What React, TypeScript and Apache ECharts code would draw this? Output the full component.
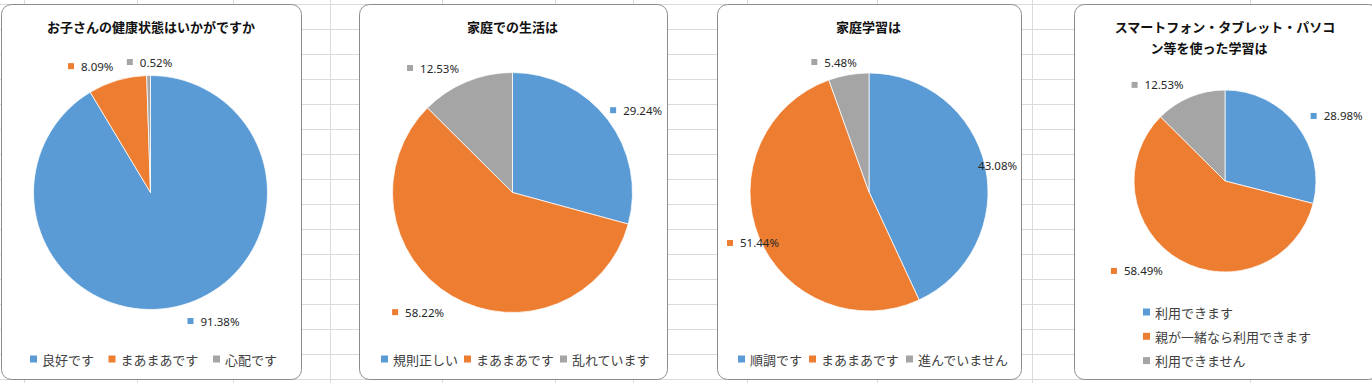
import React, { useEffect, useRef } from "react";
import * as echarts from "echarts";

// ---------- data ----------
const healthTitle = ["お子さんの健康状態はいかがですか"];
const healthCategories = ["良好です", "まあまあです", "心配です"];
const healthValues = [91.38, 8.09, 0.52];

const lifeTitle = ["家庭での生活は"];
const lifeCategories = ["規則正しい", "まあまあです", "乱れています"];
const lifeValues = [29.24, 58.22, 12.53];

const studyTitle = ["家庭学習は"];
const studyCategories = ["順調です", "まあまあです", "進んでいません"];
const studyValues = [43.08, 51.44, 5.48];

const deviceTitle = ["スマートフォン・タブレット・パソコ", "ン等を使った学習は"];
const deviceCategories = ["利用できます", "親が一緒なら利用できます", "利用できません"];
const deviceValues = [28.98, 58.49, 12.53];

// ---------- styles / layout ----------
const COLORS = ["#5B9BD5", "#ED7D31", "#A5A5A5"];
const JP = '"Noto Sans CJK JP", "Noto Sans", sans-serif';
const NUM = '"Noto Sans", "Liberation Sans", sans-serif';

const PANELS = [
  {
    title: healthTitle, cats: healthCategories, vals: healthValues,
    box: [1.5, 4.5, 300, 375], titleX: [151], titleY: [26],
    center: [150.5, 192.5], r: 117,
    legend: { orient: "horizontal", left: 30, top: 351, itemGap: 14.5 },
    nudges: [[-10.6, 26.1], [-8.9, 22.8], [0.5, 13.5]],
  },
  {
    title: lifeTitle, cats: lifeCategories, vals: lifeValues,
    box: [359.5, 4.5, 308, 375], titleX: [512.5], titleY: [26],
    center: [512.5, 192.5], r: 120,
    legend: { orient: "horizontal", left: 381, top: 351, itemGap: 6 },
    nudges: [[3.7, 28.5], [8.2, 32.4], [-10, 27.7]],
  },
  {
    title: studyTitle, cats: studyCategories, vals: studyValues,
    box: [717.5, 4.5, 304, 375], titleX: [868.5], titleY: [26],
    center: [869, 192], r: 119,
    legend: { orient: "horizontal", left: 738, top: 351, itemGap: 7 },
    nudges: [[0, 6], [-1.4, 7.7], [-5.2, 15.6]],
  },
  {
    title: deviceTitle, cats: deviceCategories, vals: deviceValues,
    box: [1074.5, 4.5, 304, 375], titleX: [1225, 1209], titleY: [26, 47],
    center: [1225, 181], r: 91,
    legend: { orient: "vertical", left: 1143, top: 304, itemGap: 8.3 },
    nudges: [[7.6, 38.2], [14.8, 34.9], [-12.5, 26.4]],
  },
];

const GRID_Y_START = 4.5;
const GRID_Y_STEP = 25;
const GRID_X = [24.5, 137.5, 233.5, 330.5, 442.5, 555.5, 633.5, 747.5, 877.5, 1032.5, 1250.5];

export default function App() {
  const ref = useRef<HTMLDivElement>(null);

  useEffect(() => {
    document.body.style.margin = "0";
    if (!ref.current) return;
    const chart = echarts.init(ref.current, undefined, { renderer: "svg" });

    const graphics: any[] = [];
    // spreadsheet grid
    for (let y = GRID_Y_START; y < 383; y += GRID_Y_STEP) {
      graphics.push({
        type: "line", z: 0, silent: true,
        shape: { x1: 0, y1: y, x2: 1372, y2: y },
        style: { stroke: "#DADADA", lineWidth: 1 },
      });
    }
    GRID_X.forEach((x) =>
      graphics.push({
        type: "line", z: 0, silent: true,
        shape: { x1: x, y1: 0, x2: x, y2: 383 },
        style: { stroke: "#DADADA", lineWidth: 1 },
      })
    );
    // chart boxes and titles
    PANELS.forEach((p) => {
      graphics.push({
        type: "rect", z: 1, silent: true,
        shape: { x: p.box[0], y: p.box[1], width: p.box[2], height: p.box[3], r: 10 },
        style: { fill: "#fff", stroke: "#8C8C8C", lineWidth: 1 },
      });
      p.title.forEach((t, i) =>
        graphics.push({
          type: "text", z: 5, silent: true,
          x: p.titleX[i], y: p.titleY[i],
          style: {
            text: t, align: "center", verticalAlign: "middle",
            font: `bold 13px ${JP}`, fill: "#111",
          },
        })
      );
    });

    const rich: any = {
      v: { fontSize: 11.5, fontFamily: NUM, color: "#262626", padding: [0, 0, 0, 7] },
    };
    COLORS.forEach((c, i) => {
      rich["s" + i] = { width: 6, height: 6, backgroundColor: c };
    });

    const series = PANELS.map((p) => {
      const total = p.vals.reduce((a, b) => a + b, 0);
      const mids: number[] = [];
      let acc = 0;
      p.vals.forEach((v) => {
        mids.push(((acc + v / 2) / total) * 360);
        acc += v;
      });
      return {
        type: "pie",
        center: p.center,
        radius: p.r,
        startAngle: 90,
        clockwise: true,
        avoidLabelOverlap: false,
        itemStyle: { borderColor: "#fff", borderWidth: 0.75 },
        emphasis: { disabled: true },
        labelLine: { show: false },
        label: {
          show: true,
          position: "outside",
          formatter: (params: any) =>
            `{s${params.dataIndex}|}{v|${p.vals[params.dataIndex].toFixed(2)}%}`,
          rich,
        },
        labelLayout: (params: any) => {
          const i = params.dataIndex;
          const theta = ((mids[i] + p.nudges[i][0]) * Math.PI) / 180;
          const d = p.r + p.nudges[i][1];
          return {
            x: p.center[0] + d * Math.sin(theta),
            y: p.center[1] - d * Math.cos(theta),
            align: "center",
            verticalAlign: "middle",
          };
        },
        data: p.cats.map((name, i) => ({
          name,
          value: p.vals[i],
          itemStyle: { color: COLORS[i] },
        })),
      };
    });

    const legends = PANELS.map((p) => ({
      data: p.cats,
      orient: p.legend.orient,
      left: p.legend.left,
      top: p.legend.top,
      itemGap: p.legend.itemGap,
      itemWidth: 7,
      itemHeight: 7,
      icon: "rect",
      padding: 0,
      selectedMode: false,
      itemStyle: { borderWidth: 0 },
      textStyle: { fontSize: 13, fontFamily: JP, color: "#404040", lineHeight: 16 },
    }));

    chart.setOption({
      animation: false,
      backgroundColor: "#fff",
      graphic: graphics,
      legend: legends,
      series,
    });

    return () => chart.dispose();
  }, []);

  return <div ref={ref} style={{ width: 1372, height: 383 }} />;
}
